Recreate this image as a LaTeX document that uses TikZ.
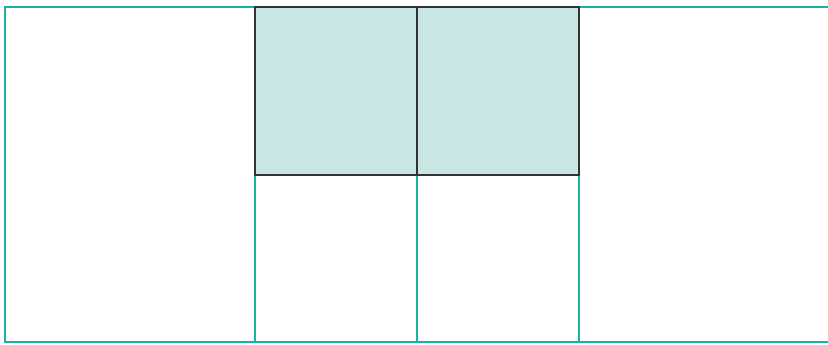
\documentclass[tikz,border=0pt]{standalone}
\definecolor{tealline}{HTML}{1AB0A2}
\definecolor{cellfill}{HTML}{C8E7E4}
\definecolor{darkline}{HTML}{333333}
\tikzset{
  gridline/.style={draw=tealline, line width=1.4pt},
  filledcell/.style={fill=cellfill, draw=darkline, line width=1.2pt},
}
\begin{document}
\begin{tikzpicture}[x=1pt,y=-1pt]
\useasboundingbox (0,0) rectangle (828,345);
% outer frame (open on the right)
\coordinate (tr) at (830,7);
\coordinate (tl) at (5,7);
\coordinate (bl) at (5,342);
\coordinate (br) at (830,342);
\draw[gridline] (tr) -- (tl) -- (bl) -- (br);
% lower verticals
\coordinate (a1) at (255,175); \coordinate (a2) at (255,342);
\coordinate (b1) at (417,175); \coordinate (b2) at (417,342);
\coordinate (c1) at (579,175); \coordinate (c2) at (579,342);
\draw[gridline] (a1) -- (a2);
\draw[gridline] (b1) -- (b2);
\draw[gridline] (c1) -- (c2);
% filled top cells
\draw[filledcell] (255,7) rectangle (417,175);
\draw[filledcell] (417,7) rectangle (579,175);
\end{tikzpicture}
\end{document}
